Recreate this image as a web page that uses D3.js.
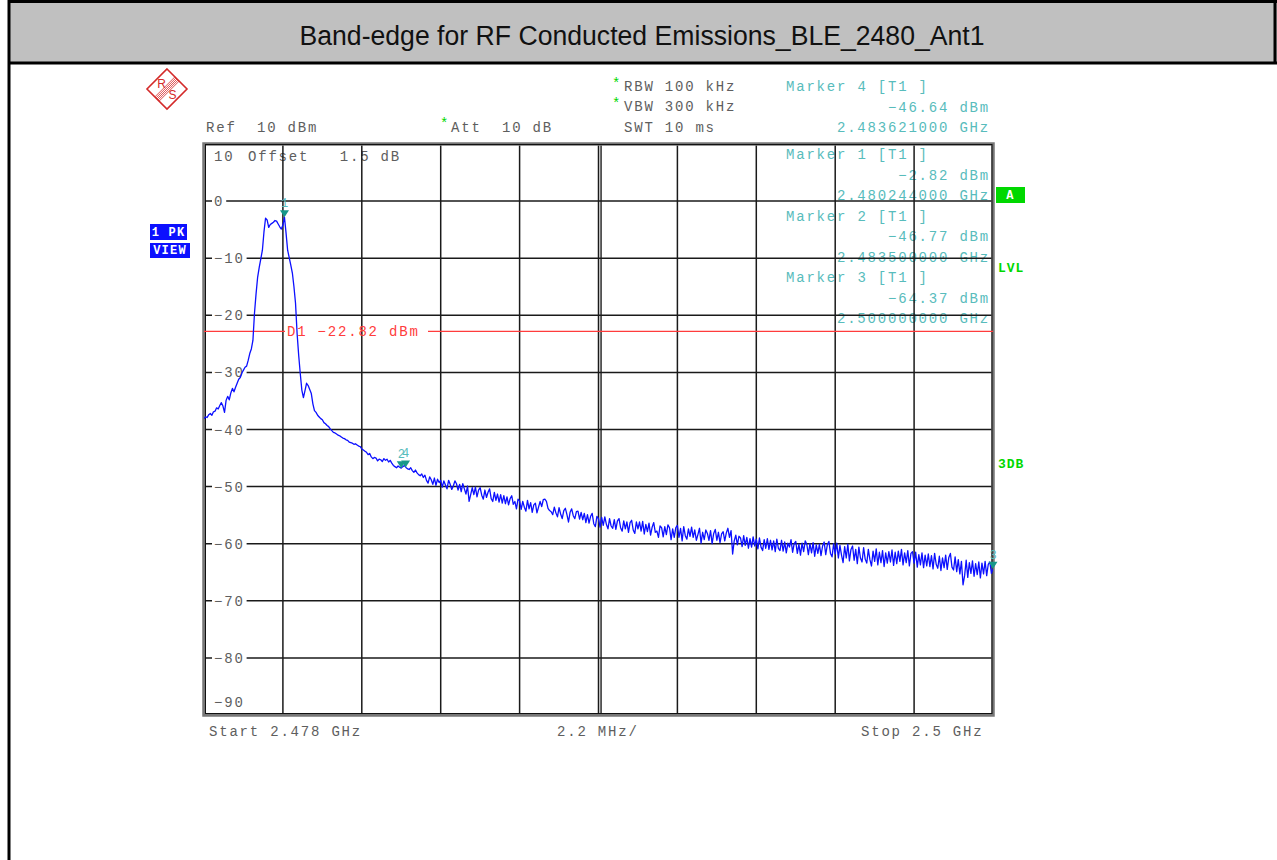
<!DOCTYPE html>
<html>
<head>
<meta charset="utf-8">
<script src="https://cdn.jsdelivr.net/npm/d3@7"></script>
<style>
  body { margin: 0; background: #fff; }
  svg text { font-family: "Liberation Mono", "DejaVu Sans Mono", monospace; font-size: 14px; letter-spacing: 1.8px; white-space: pre; }
</style>
</head>
<body>
<svg id="chart" width="1277" height="860"></svg>
<script>
var title = "Band-edge for RF Conducted Emissions_BLE_2480_Ant1";

// sweep settings (MHz / dBm)
var startMHz = 2478, stopMHz = 2500, divMHz = 2.2;
var refLevel = 10, bottomLevel = -90;
var yTicks = [10, 0, -10, -20, -30, -40, -50, -60, -70, -80, -90];

// trace 1, 501 sweep points
var traceLevels = [
  -38.1, -37.8, -37.9, -37.4, -37.2, -37.5, -36.9, -36.8, -36.2, -36.4,
  -35.8, -35.3, -35.9, -37.0, -34.9, -34.2, -34.8, -33.6, -32.8, -33.4,
  -32.6, -31.9, -31.2, -30.9, -30.1, -29.6, -29.1, -28.9, -27.9, -26.7,
  -25.9, -24.4, -19.6, -16.2, -13.3, -11.6, -10.1, -8.6, -5.4, -3.0,
  -3.3, -4.6, -4.1, -3.9, -3.7, -3.4, -3.5, -4.0, -4.5, -4.9,
  -4.2, -2.82, -5.6, -8.6, -9.9, -11.2, -12.6, -15.0, -17.9, -23.2,
  -27.0, -30.2, -33.1, -34.4, -33.2, -31.9, -32.3, -33.0, -33.7, -35.5,
  -36.7, -37.0, -37.5, -37.8, -38.1, -38.3, -38.8, -39.0, -39.3, -39.5,
  -39.9, -40.2, -40.5, -40.6, -40.8, -41.0, -41.1, -41.3, -41.5, -41.6,
  -41.8, -41.9, -42.2, -42.3, -42.4, -42.6, -42.5, -42.7, -42.9, -43.0,
  -43.4, -43.6, -43.8, -44.0, -44.4, -44.2, -44.8, -45.1, -44.9, -45.0,
  -45.5, -45.2, -45.3, -45.6, -45.1, -45.4, -45.2, -45.7, -45.4, -45.9,
  -46.3, -46.5, -46.7, -46.4, -46.6, -46.77, -46.5, -46.3, -46.64, -46.9,
  -47.0, -46.7, -47.2, -47.5, -47.1, -47.6, -47.9, -48.1, -47.8, -48.4,
  -48.0, -48.9, -49.4, -48.3, -48.8, -49.6, -48.5, -49.8, -48.7, -49.3,
  -48.9, -50.1, -49.0, -49.7, -50.4, -48.9, -49.6, -50.5, -49.9, -49.0,
  -49.5, -50.6, -49.6, -50.9, -49.5, -50.4, -51.3, -49.9, -52.6, -51.4,
  -50.2, -51.4, -50.1, -51.8, -50.6, -50.2, -51.5, -52.2, -50.6, -51.9,
  -51.0, -50.4, -52.1, -52.6, -51.0, -52.4, -51.3, -52.7, -51.4, -52.9,
  -51.6, -53.0, -51.8, -53.2, -52.1, -51.6, -53.1, -52.6, -53.9, -52.2,
  -52.5, -54.0, -52.6, -53.6, -54.3, -52.4, -53.9, -52.8, -54.5, -53.2,
  -52.9, -54.6, -53.6, -52.6, -53.5, -52.3, -52.2, -52.6, -53.8, -54.2,
  -54.4, -54.9, -53.6, -54.6, -55.3, -53.7, -54.8, -55.6, -54.2, -53.8,
  -54.9, -56.2, -54.5, -53.9, -55.1, -55.6, -54.4, -54.3, -55.7, -54.5,
  -55.8, -54.7, -56.3, -54.9, -56.4, -55.2, -54.7, -56.5, -57.0, -55.2,
  -55.6, -57.1, -55.4, -56.8, -55.3, -56.6, -57.4, -55.6, -56.9, -57.3,
  -55.8, -57.5, -56.0, -55.6, -57.2, -57.8, -56.0, -57.4, -56.2, -58.0,
  -56.3, -55.9, -57.6, -58.2, -56.2, -57.4, -56.2, -57.8, -56.1, -58.3,
  -56.6, -57.9, -56.4, -58.5, -57.1, -56.3, -58.0, -57.8, -58.9, -56.9,
  -57.2, -58.8, -57.0, -58.4, -56.7, -57.2, -59.3, -57.4, -58.9, -57.2,
  -56.8, -58.9, -57.3, -59.5, -57.0, -58.6, -59.2, -57.4, -58.7, -57.1,
  -58.9, -57.6, -59.4, -58.4, -57.3, -59.9, -58.0, -59.3, -57.6, -58.2,
  -59.4, -57.7, -60.0, -58.2, -57.5, -59.4, -58.0, -59.8, -58.3, -57.9,
  -59.5, -58.1, -57.3, -58.9, -57.7, -61.8, -59.5, -58.5, -60.2, -58.7,
  -59.0, -60.5, -58.6, -60.3, -58.9, -60.8, -59.1, -60.6, -58.8, -60.4,
  -59.2, -60.9, -59.0, -60.6, -61.2, -59.3, -60.8, -59.1, -61.0, -59.4,
  -61.1, -59.5, -61.4, -59.2, -60.8, -61.2, -59.4, -61.3, -59.7, -61.6,
  -59.9, -60.6, -59.3, -61.5, -60.0, -59.6, -61.7, -60.1, -62.0, -59.9,
  -61.4, -59.5, -60.1, -61.9, -60.0, -61.6, -59.8, -62.2, -60.2, -61.7,
  -60.1, -62.1, -60.4, -59.7, -61.9, -60.2, -59.6, -61.7, -62.3, -60.0,
  -61.8, -59.9, -62.5, -60.3, -62.0, -63.3, -60.5, -62.5, -60.1, -63.0,
  -61.0, -60.4, -62.9, -61.0, -63.5, -60.6, -62.5, -63.2, -60.7, -62.7,
  -63.4, -61.0, -62.8, -63.9, -61.3, -63.1, -60.9, -63.7, -61.5, -63.3,
  -61.2, -64.0, -61.6, -63.4, -61.4, -63.2, -61.1, -63.8, -61.5, -63.5,
  -61.3, -63.1, -61.0, -63.7, -61.6, -63.3, -61.2, -63.9, -61.7, -61.4,
  -63.4, -61.5, -64.1, -61.9, -63.7, -61.6, -64.2, -62.0, -63.9, -61.8,
  -64.0, -62.1, -64.4, -61.7, -63.6, -64.3, -62.2, -64.7, -62.5, -64.2,
  -62.0, -64.5, -62.4, -61.7, -64.1, -64.6, -62.3, -64.9, -62.8, -65.3,
  -63.1, -67.2, -65.6, -62.9, -65.9, -63.3, -65.2, -63.0, -65.7, -63.5,
  -65.4, -63.2, -66.0, -63.4, -65.3, -63.1, -65.6, -63.6, -63.2, -65.2,
  -64.37
];

// markers (readout order on screen: 4, 1, 2, 3)
var markerNames = ["4", "1", "2", "3"];
var markerFreqs = [2483.621, 2480.244, 2483.5, 2500.0];
var markerLevels = [-46.64, -2.82, -46.77, -64.37];
var d1Level = -22.82;

var svg = d3.select("#chart");

var plotLeft = 204, plotRight = 993, plotTop = 144, plotBottom = 715;
var x = d3.scaleLinear().domain([startMHz, stopMHz]).range([plotLeft, plotRight]);
var y = d3.scaleLinear().domain([bottomLevel, refLevel]).range([plotBottom, plotTop]);
var charW = 10.2;

var gray = "#5e5e5e",
    teal = "#58bcbc",
    tealDark = "#17988a",
    green = "#00d800",
    blue = "#0c10ff";

// page frame + title band
svg.append("rect").attr("x", 8).attr("y", 2).attr("width", 1269).attr("height", 60).attr("fill", "#c0c0c0");
svg.append("line").attr("x1", 8).attr("x2", 1277).attr("y1", 1.5).attr("y2", 1.5).attr("stroke", "#000").attr("stroke-width", 3);
svg.append("line").attr("x1", 8).attr("x2", 1277).attr("y1", 63).attr("y2", 63).attr("stroke", "#000").attr("stroke-width", 3);
svg.append("line").attr("x1", 9).attr("x2", 9).attr("y1", 0).attr("y2", 860).attr("stroke", "#000").attr("stroke-width", 3);
svg.append("line").attr("x1", 1275).attr("x2", 1275).attr("y1", 0).attr("y2", 64).attr("stroke", "#000").attr("stroke-width", 3);

svg.append("text")
    .attr("x", 642).attr("y", 45)
    .attr("text-anchor", "middle")
    .attr("textLength", 685)
    .attr("lengthAdjust", "spacingAndGlyphs")
    .style("font-family", '"Liberation Sans Narrow", "Liberation Sans", Arial, sans-serif')
    .style("font-size", "27px")
    .style("letter-spacing", "0px")
    .attr("fill", "#111")
    .text(title);

// R&S logo
var logo = svg.append("g").attr("transform", "translate(167,89)");
logo.append("path")
    .attr("d", "M0,-20L20,0L0,20L-20,0Z")
    .attr("fill", "none")
    .attr("stroke", "#d42a2a")
    .attr("stroke-width", 1.6);
[-3, -1.5, 0, 1.5, 3].forEach(function(k) {
    var o = k / Math.SQRT2;
    logo.append("line")
        .attr("x1", 10 + o).attr("y1", -10 + o)
        .attr("x2", -10 + o).attr("y2", 10 + o)
        .attr("stroke", "#d42a2a").attr("stroke-width", 0.8);
});
[["R", -5.5, -1], ["S", 5.5, 9.5]].forEach(function(t) {
    logo.append("text")
        .attr("x", t[1]).attr("y", t[2])
        .attr("text-anchor", "middle")
        .style("font-family", '"Liberation Sans", sans-serif')
        .style("font-size", "12px")
        .style("letter-spacing", "0px")
        .attr("fill", "#d42a2a")
        .text(t[0]);
});

// header settings
function label(px, py, str, color) {
    return svg.append("text").attr("x", px).attr("y", py).attr("fill", color || gray).text(str);
}
label(206, 132, "Ref  10 dBm");
label(440, 128, "*", green);
label(451, 132, "Att  10 dB");
label(612, 88, "*", green);
label(624, 91, "RBW 100 kHz");
label(612, 108, "*", green);
label(624, 111, "VBW 300 kHz");
label(624, 132, "SWT 10 ms");

// marker readouts (drawn under the grid, as on the analyzer)
var readTop = [91, 159, 220.5, 282];
var fmtLvl = function(v) { return d3.format(".2f")(v).replace("-", "\u2212") + " dBm"; };
markerNames.forEach(function(n, i) {
    label(786, readTop[i], "Marker " + n + " [T1 ]", teal);
    label(990, readTop[i] + 20.5, fmtLvl(markerLevels[i]), teal).attr("text-anchor", "end");
    label(990, readTop[i] + 41, (markerFreqs[i] / 1000).toFixed(9) + " GHz", teal).attr("text-anchor", "end");
});

label(248, 161, "Offset   1.5 dB");

// grid
var grid = svg.append("g");
var xDivs = d3.range(0, 11).map(function(k) { return startMHz + k * divMHz; });
grid.selectAll("line.v")
    .data(xDivs.slice(1, -1))
    .enter().append("line")
    .attr("x1", function(d) { return x(d); })
    .attr("x2", function(d) { return x(d); })
    .attr("y1", plotTop).attr("y2", plotBottom)
    .attr("stroke", "#1a1a1a").attr("stroke-width", 1.5);
// centre line is doubled
grid.append("line")
    .attr("x1", x(xDivs[5]) + 2.5).attr("x2", x(xDivs[5]) + 2.5)
    .attr("y1", plotTop).attr("y2", plotBottom)
    .attr("stroke", "#1a1a1a").attr("stroke-width", 1.5);
grid.append("line")
    .attr("x1", x(xDivs[5]) + 1.25).attr("x2", x(xDivs[5]) + 1.25)
    .attr("y1", plotTop).attr("y2", plotBottom)
    .attr("stroke", "#bbb").attr("stroke-width", 1);
grid.selectAll("line.h")
    .data(yTicks.slice(1, -1))
    .enter().append("line")
    .attr("x1", plotLeft).attr("x2", plotRight)
    .attr("y1", function(d) { return y(d); })
    .attr("y2", function(d) { return y(d); })
    .attr("stroke", "#1a1a1a").attr("stroke-width", 1.5);

// frame
svg.append("rect")
    .attr("x", plotLeft).attr("y", plotTop)
    .attr("width", plotRight - plotLeft).attr("height", plotBottom - plotTop)
    .attr("fill", "none").attr("stroke", "#777").attr("stroke-width", 3.5);
svg.append("rect")
    .attr("x", plotLeft + 1.5).attr("y", plotTop + 0.5)
    .attr("width", plotRight - plotLeft - 2.5).attr("height", plotBottom - plotTop - 2)
    .attr("fill", "none").attr("stroke", "#111").attr("stroke-width", 1);

// level labels
yTicks.forEach(function(v, i) {
    var str = v === 0 ? "0" : (v < 0 ? "\u2212" + (-v) : String(v));
    var py = y(v) + 5;
    if (i === 0) py = y(v) + 17;
    if (i === yTicks.length - 1) py = y(v) - 8;
    if (i > 0 && i < yTicks.length - 1) {
        svg.append("rect")
            .attr("x", 212).attr("y", y(v) - 3)
            .attr("width", str.length * charW + 4).attr("height", 6)
            .attr("fill", "#fff");
    }
    label(214, py, str);
});

// display line D1
svg.append("line")
    .attr("x1", plotLeft).attr("x2", 285)
    .attr("y1", y(d1Level)).attr("y2", y(d1Level))
    .attr("stroke", "#ff3c3c").attr("stroke-width", 1.2);
svg.append("line")
    .attr("x1", 428).attr("x2", plotRight)
    .attr("y1", y(d1Level)).attr("y2", y(d1Level))
    .attr("stroke", "#ff3c3c").attr("stroke-width", 1.2);
label(287, y(d1Level) + 4.5, "D1 " + fmtLvl(d1Level), "#ff3c3c");

// trace
svg.append("clipPath").attr("id", "plotclip")
    .append("rect")
    .attr("x", plotLeft).attr("y", plotTop)
    .attr("width", plotRight - plotLeft).attr("height", plotBottom - plotTop);
var step = (stopMHz - startMHz) / (traceLevels.length - 1);
var line = d3.line()
    .x(function(d, i) { return x(startMHz + i * step); })
    .y(function(d) { return y(d); });
svg.append("path")
    .datum(traceLevels)
    .attr("clip-path", "url(#plotclip)")
    .attr("d", line)
    .attr("fill", "none")
    .attr("stroke", blue)
    .attr("stroke-width", 1.3)
    .attr("stroke-linejoin", "round");

// marker symbols
markerNames.forEach(function(n, i) {
    var mx = x(markerFreqs[i]), my = y(markerLevels[i]);
    svg.append("path")
        .attr("d", "M" + (mx - 4.5) + "," + (my - 7) + "L" + (mx + 4.5) + "," + (my - 7) + "L" + mx + "," + my + "Z")
        .attr("fill", tealDark);
    svg.append("text")
        .attr("x", mx).attr("y", my - 10)
        .attr("text-anchor", "middle")
        .style("font-size", "12px")
        .style("letter-spacing", "0px")
        .attr("fill", teal)
        .text(n);
});

// side annotations
function badge(bx, by, w, h, str, fill) {
    svg.append("rect").attr("x", bx).attr("y", by).attr("width", w).attr("height", h).attr("fill", fill);
    svg.append("text")
        .attr("x", bx + w / 2).attr("y", by + h - 4)
        .attr("text-anchor", "middle")
        .style("font-size", "12px").style("font-weight", "bold").style("letter-spacing", "1.2px")
        .attr("fill", "#fff")
        .text(str);
}
badge(150, 224, 37, 16, "1 PK", blue);
badge(150, 243, 40, 15, "VIEW", blue);
badge(996, 187, 29, 16, "A", green);
svg.append("text").attr("x", 998).attr("y", 272)
    .style("font-size", "13px").style("font-weight", "bold").style("letter-spacing", "1px")
    .attr("fill", green).text("LVL");
svg.append("text").attr("x", 998).attr("y", 468)
    .style("font-size", "13px").style("font-weight", "bold").style("letter-spacing", "1px")
    .attr("fill", green).text("3DB");

// footer
label(209, 736, "Start 2.478 GHz");
label(557, 736, divMHz + " MHz/");
label(861, 736, "Stop 2.5 GHz");
</script>
</body>
</html>
